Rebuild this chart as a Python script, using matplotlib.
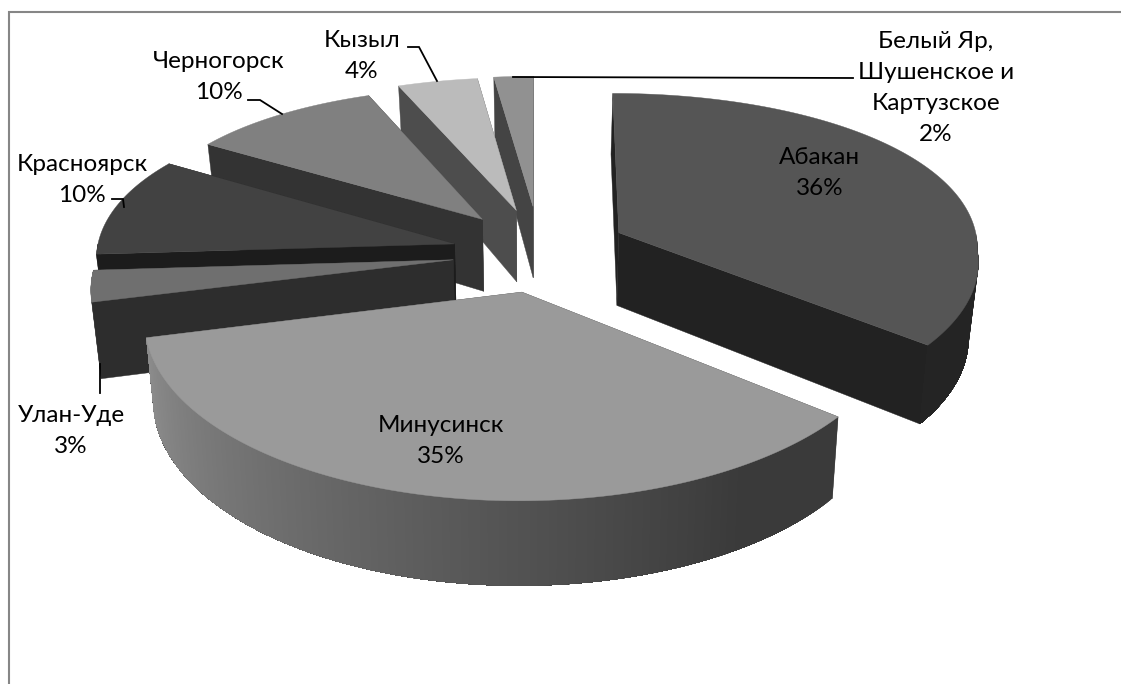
import numpy as np
import matplotlib
matplotlib.use("Agg")
import matplotlib.pyplot as plt

# Shares of settlements, percent, clockwise from twelve o'clock
names = ["Абакан", "Минусинск", "Улан-Уде", "Красноярск", "Черногорск", "Кызыл",
         "Белый Яр,\nШушенское и\nКартузское"]
shares = [36, 35, 3, 10, 10, 4, 2]

# Greys for top faces, radial walls and the outer rim (near/far end of each slice)
top_grey = ["#555555", "#9a9a9a", "#6f6f6f", "#424242", "#808080", "#bbbbbb", "#919191"]
wall_grey = ["#222222", "#3c3c3c", "#2d2d2d", "#1c1c1c", "#333333", "#4d4d4d", "#444444"]
rim_from = [0x24, 0x3a, 0x78, 0x30, 0x50, 0x80, 0x60]
rim_to = [0x24, 0x8e, 0x78, 0x30, 0x50, 0x80, 0x60]

# Slice pull-out from the pie centre, size factor and fine placement in pixels
explode = [0.250, 0.223, 0.223, 0.223, 0.223, 0.223, 0.223]
radius = [1.0, 1.0, 0.985, 0.995, 0.96, 0.98, 0.96]
shift_x = [1, 3, -4, -5, -4, -1, 1]
shift_y = [0, 5, 4, 3, -3, -5, -8]

CX, CY = 537.0, 250.0
RX, RY = 360.0, 165.0


def project(u, v):
    """Perspective view of the pie plane; the far half narrows less sideways."""
    u, v = np.asarray(u, float), np.asarray(v, float)
    wy = 1 + 0.15 * v
    wx = np.where(v > 0, 1 + 0.08 * v, wy)
    return CX + RX * u / wx, CY - RY * v / wy


def drop(u, v):
    """Screen offset from the top face to the bottom face of the pie."""
    u, v = np.asarray(u, float), np.asarray(v, float)
    return -8.0 * u, 74.0 - np.where(v > 0, 12.0, 9.0) * v


fig = plt.figure(figsize=(11.21, 6.84), dpi=100, facecolor="white")
ax = fig.add_axes([0, 0, 1, 1])
ax.set_xlim(0, 1121)
ax.set_ylim(684, 0)
ax.axis("off")

# Chart area border runs off the right and bottom of the canvas
ax.plot([9, 9, 1140], [700, 12, 12], color="#868686", lw=1.5, solid_joinstyle="miter")

edges = np.cumsum([0] + shares) * 3.6
order = [6, 5, 4, 3, 2, 0, 1]  # painted from the back of the pie to the front

for z, i in enumerate(order):
    a0, a1 = np.radians(edges[i]), np.radians(edges[i + 1])
    mid = (a0 + a1) / 2
    eu, ev = explode[i] * np.sin(mid), explode[i] * np.cos(mid)
    th = np.linspace(a0, a1, max(int(np.degrees(a1 - a0) * 2), 8))
    au, av = eu + radius[i] * np.sin(th), ev + radius[i] * np.cos(th)

    def top(u, v):
        x, y = project(u, v)
        return x + shift_x[i], y + shift_y[i]

    def bottom(u, v):
        x, y = top(u, v)
        dx, dy = drop(u, v)
        return x + dx, y + dy

    ax_, ay_ = top(eu, ev)
    bx_, by_ = bottom(eu, ev)
    tx, ty = top(au, av)
    lx, ly = bottom(au, av)

    # radial walls sit above the rim on slices whose starting cut faces the viewer
    wall_z = 10 + z + (0.4 if edges[i] >= 180 else 0.0)
    for k in (0, -1):
        ax.fill([ax_, tx[k], lx[k], bx_], [ay_, ty[k], ly[k], by_],
                color=wall_grey[i], lw=0.3, zorder=wall_z)

    # outer rim on the near half only; each strip is painted over the rest of the
    # rim so the shading has no seams between strips
    front = np.flatnonzero(np.cos(th) <= 0)
    if len(front) > 1:
        n = len(front) - 1
        for step, k in enumerate(front[:-1]):
            frac = np.clip((step / n - 0.15) / 0.85, 0, 1)
            g = (rim_from[i] + (rim_to[i] - rim_from[i]) * frac) / 255
            rest = front[step:]
            ax.fill(np.r_[tx[rest], lx[rest][::-1]], np.r_[ty[rest], ly[rest][::-1]],
                    color=(g, g, g), lw=0, zorder=10 + z + 0.3)

    # top face
    ax.fill(np.r_[ax_, tx], np.r_[ay_, ty], color=top_grey[i], lw=0.3, zorder=10 + z + 0.6)

# Leader lines from outside labels to their slices
leaders = [
    ([513, 853], [77, 78]),
    ([408, 419, 437], [47, 47, 81]),
    ([248, 260, 282], [100, 100, 114]),
    ([112, 123, 124], [199, 199, 207]),
    ([100, 100], [364, 393]),
]
for lx_, ly_ in leaders:
    ax.plot(lx_, ly_, color="black", lw=1.3, zorder=30, solid_joinstyle="miter")

# Label centres in the same order as the slices
label_x = [820, 441, 71, 82, 219, 362, 936]
label_y = [173, 441, 431, 180, 77, 56, 88]
for name, share, x, y in zip(names, shares, label_x, label_y):
    ax.text(x, y, f"{name}\n{share}%", ha="center", va="center", ma="center",
            family="Lato", fontsize=17.5, linespacing=1.6, color="black", zorder=40)

fig.savefig("out.png", dpi=100)
